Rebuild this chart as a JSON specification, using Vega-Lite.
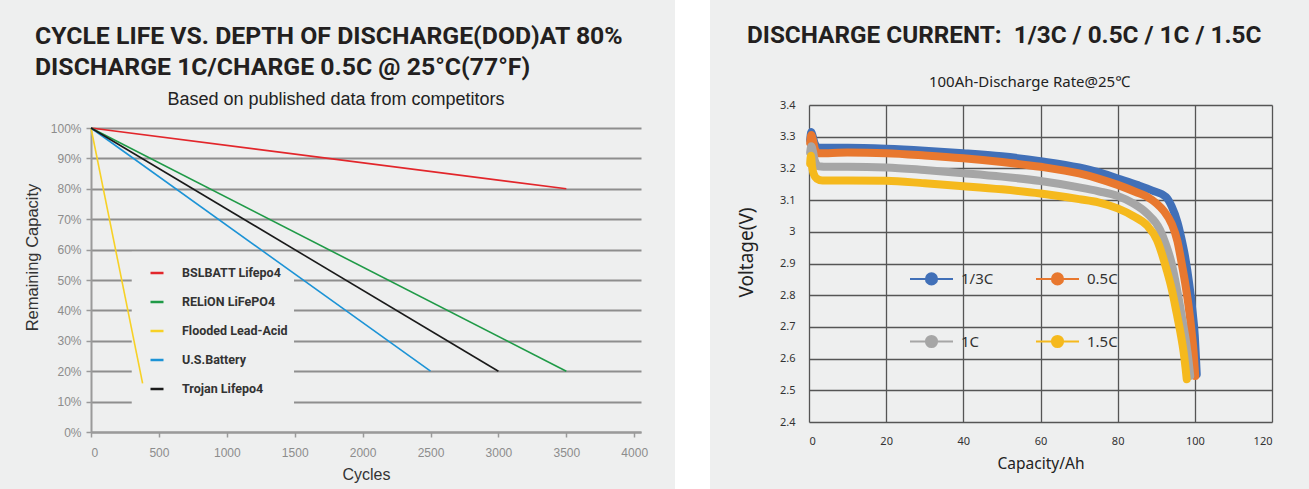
{
  "$schema": "https://vega.github.io/schema/vega-lite/v6.json",
  "background": "#eeefef",
  "padding": {"left": 24, "top": 0, "right": 40, "bottom": 0},
  "spacing": 27,
  "resolve": {"scale": {"color": "independent"}, "legend": {"color": "independent"}},
  "config": {
    "view": {"stroke": null},
    "font": "Liberation Sans"
  },
  "hconcat": [
    {
      "title": {
        "text": ["CYCLE LIFE VS. DEPTH OF DISCHARGE(DOD)AT 80%", "\u00a0DISCHARGE 1C/CHARGE 0.5C @ 25°C(77°F)"],
        "anchor": "start", "frame": "bounds", "dx": 11,
        "font": "Roboto", "fontWeight": "bold", "fontSize": 24.8, "lineHeight": 31,
        "color": "#231f20", "baseline": "bottom", "offset": -14
      },
      "vconcat": [
        {
          "width": 550,
          "height": 327,
          "title": {
            "text": "Based on published data from competitors",
            "anchor": "middle", "frame": "group", "dx": -30,
            "font": "Liberation Sans", "fontSize": 18, "fontWeight": "normal",
            "color": "#222222", "baseline": "alphabetic", "offset": -18
          },
          "layer": [
            {
              "data": {"values": [{}]},
              "mark": {"type": "rect", "fill": "#eeefef", "stroke": null},
              "encoding": {
                "x": {
                  "datum": 300, "type": "quantitative",
                  "scale": {"domain": [0, 4050], "nice": false},
                  "axis": {
                    "values": [0, 500, 1000, 1500, 2000, 2500, 3000, 3500, 4000],
                    "format": "d", "title": "Cycles", "grid": false,
                    "domain": true, "domainColor": "#9a9a9a", "domainWidth": 2,
                    "ticks": true, "tickColor": "#9a9a9a", "tickSize": 5, "tickWidth": 1.5,
                    "labelFont": "Liberation Sans", "labelFontSize": 12, "labelColor": "#8c8c8c", "labelPadding": 10,
                    "titleFont": "Liberation Sans", "titleFontSize": 16, "titleFontWeight": "normal", "titleColor": "#333333",
                    "titleY": 42, "titleBaseline": "middle"
                  }
                },
                "x2": {"datum": 1495},
                "y": {
                  "datum": 6.5, "type": "quantitative",
                  "scale": {"domain": [0, 100], "range": [327, 23], "nice": false, "zero": false},
                  "axis": {
                    "values": [0, 10, 20, 30, 40, 50, 60, 70, 80, 90, 100],
                    "labelExpr": "datum.value + '%'", "title": "Remaining Capacity",
                    "grid": true, "gridColor": "#8e8e8e", "gridWidth": 2,
                    "domain": true, "domainColor": "#9a9a9a", "domainWidth": 2,
                    "ticks": true, "tickColor": "#9a9a9a", "tickSize": 5, "tickWidth": 1.5,
                    "labelFont": "Liberation Sans", "labelFontSize": 12, "labelColor": "#8c8c8c", "labelPadding": 5,
                    "titleFont": "Liberation Sans", "titleFontSize": 16.5, "titleFontWeight": "normal", "titleColor": "#333333",
                    "titleX": -59, "titleY": 152, "titleBaseline": "middle"
                  }
                },
                "y2": {"datum": 59.3}
              }
            },
            {
              "data": {
                "values": [
                  {"s": "BSLBATT Lifepo4", "c": 0, "p": 100},
                  {"s": "BSLBATT Lifepo4", "c": 3500, "p": 80},
                  {"s": "RELiON LiFePO4", "c": 0, "p": 100},
                  {"s": "RELiON LiFePO4", "c": 3500, "p": 20},
                  {"s": "Flooded Lead-Acid", "c": 0, "p": 100},
                  {"s": "Flooded Lead-Acid", "c": 380, "p": 16},
                  {"s": "U.S.Battery", "c": 0, "p": 100},
                  {"s": "U.S.Battery", "c": 2500, "p": 20},
                  {"s": "Trojan Lifepo4", "c": 0, "p": 100},
                  {"s": "Trojan Lifepo4", "c": 3000, "p": 20}
                ]
              },
              "mark": {"type": "line", "strokeWidth": 1.6},
              "encoding": {
                "x": {
                  "field": "c", "type": "quantitative",
                  "scale": {"domain": [0, 4050], "nice": false},
                  "axis": {
                    "values": [0, 500, 1000, 1500, 2000, 2500, 3000, 3500, 4000],
                    "format": "d", "title": "Cycles", "grid": false,
                    "domain": true, "domainColor": "#9a9a9a", "domainWidth": 2,
                    "ticks": true, "tickColor": "#9a9a9a", "tickSize": 5, "tickWidth": 1.5,
                    "labelFont": "Liberation Sans", "labelFontSize": 12, "labelColor": "#8c8c8c", "labelPadding": 10,
                    "titleFont": "Liberation Sans", "titleFontSize": 16, "titleFontWeight": "normal", "titleColor": "#333333",
                    "titleY": 42, "titleBaseline": "middle"
                  }
                },
                "y": {
                  "field": "p", "type": "quantitative",
                  "scale": {"domain": [0, 100], "range": [327, 23], "nice": false, "zero": false},
                  "axis": {
                    "values": [0, 10, 20, 30, 40, 50, 60, 70, 80, 90, 100],
                    "labelExpr": "datum.value + '%'", "title": "Remaining Capacity",
                    "grid": true, "gridColor": "#8e8e8e", "gridWidth": 2,
                    "domain": true, "domainColor": "#9a9a9a", "domainWidth": 2,
                    "ticks": true, "tickColor": "#9a9a9a", "tickSize": 5, "tickWidth": 1.5,
                    "labelFont": "Liberation Sans", "labelFontSize": 12, "labelColor": "#8c8c8c", "labelPadding": 5,
                    "titleFont": "Liberation Sans", "titleFontSize": 16.5, "titleFontWeight": "normal", "titleColor": "#333333",
                    "titleX": -59, "titleY": 152, "titleBaseline": "middle"
                  }
                },
                "color": {
                  "field": "s", "type": "nominal",
                  "scale": {
                    "domain": ["BSLBATT Lifepo4", "RELiON LiFePO4", "Flooded Lead-Acid", "U.S.Battery", "Trojan Lifepo4"],
                    "range": ["#e2262b", "#1f9a47", "#f7d126", "#1c93d6", "#1a1a1a"]
                  },
                  "legend": {
                    "orient": "none", "legendX": 58, "legendY": 160, "title": null,
                    "padding": 0,
                    "symbolType": "stroke", "symbolSize": 169, "symbolStrokeWidth": 2.5,
                    "labelFont": "Roboto", "labelFontWeight": "bold", "labelFontSize": 12.5, "labelColor": "#333333",
                    "labelOffset": 17, "rowPadding": 14, "labelLimit": 300
                  }
                }
              }
            }
          ]
        }
      ]
    },
    {
      "width": 35,
      "height": 384,
      "data": {"values": [{}]},
      "mark": {"type": "rect", "fill": "#ffffff", "stroke": null},
      "encoding": {
        "x": {"datum": 0, "type": "quantitative", "scale": {"domain": [0, 1], "range": [0, 35]}, "axis": null},
        "x2": {"datum": 1},
        "y": {"datum": 0, "type": "quantitative", "scale": {"domain": [0, 1], "range": [384, -105]}, "axis": null},
        "y2": {"datum": 1}
      }
    },
    {
      "title": {
        "text": "DISCHARGE CURRENT:\u00a0\u00a01/3C / 0.5C / 1C / 1.5C",
        "anchor": "start", "frame": "bounds", "dx": 10,
        "font": "Roboto", "fontWeight": "bold", "fontSize": 24.3,
        "color": "#231f20", "baseline": "bottom", "offset": 3
      },
      "vconcat": [
        {
          "width": 463,
          "height": 317,
          "title": {
            "text": "100Ah-Discharge Rate@25℃",
            "anchor": "middle", "frame": "group", "dx": -11,
            "font": "Noto Sans", "fontSize": 15, "fontWeight": "normal",
            "color": "#222222", "baseline": "alphabetic", "offset": -3
          },
          "data": {
            "values": [
              {"r": "1/3C", "c": 0.3, "v": 3.29},
              {"r": "1/3C", "c": 0.6, "v": 3.315},
              {"r": "1/3C", "c": 1.0, "v": 3.3},
              {"r": "1/3C", "c": 1.5, "v": 3.278},
              {"r": "1/3C", "c": 2.5, "v": 3.265},
              {"r": "1/3C", "c": 5, "v": 3.265},
              {"r": "1/3C", "c": 10, "v": 3.265},
              {"r": "1/3C", "c": 20, "v": 3.262},
              {"r": "1/3C", "c": 30, "v": 3.256},
              {"r": "1/3C", "c": 40, "v": 3.248},
              {"r": "1/3C", "c": 50, "v": 3.238},
              {"r": "1/3C", "c": 60, "v": 3.223},
              {"r": "1/3C", "c": 70, "v": 3.203},
              {"r": "1/3C", "c": 75, "v": 3.188},
              {"r": "1/3C", "c": 80, "v": 3.168},
              {"r": "1/3C", "c": 85, "v": 3.148},
              {"r": "1/3C", "c": 89, "v": 3.13},
              {"r": "1/3C", "c": 92.5, "v": 3.11},
              {"r": "1/3C", "c": 94, "v": 3.08},
              {"r": "1/3C", "c": 95.5, "v": 3.03},
              {"r": "1/3C", "c": 96.5, "v": 2.98},
              {"r": "1/3C", "c": 97.5, "v": 2.92},
              {"r": "1/3C", "c": 98.5, "v": 2.84},
              {"r": "1/3C", "c": 99.3, "v": 2.76},
              {"r": "1/3C", "c": 100, "v": 2.67},
              {"r": "1/3C", "c": 100.3, "v": 2.6},
              {"r": "1/3C", "c": 100.5, "v": 2.55},
              {"r": "0.5C", "c": 0.3, "v": 3.28},
              {"r": "0.5C", "c": 0.6, "v": 3.305},
              {"r": "0.5C", "c": 1.0, "v": 3.29},
              {"r": "0.5C", "c": 1.5, "v": 3.262},
              {"r": "0.5C", "c": 2.5, "v": 3.248},
              {"r": "0.5C", "c": 5, "v": 3.248},
              {"r": "0.5C", "c": 10, "v": 3.25},
              {"r": "0.5C", "c": 20, "v": 3.248},
              {"r": "0.5C", "c": 30, "v": 3.241},
              {"r": "0.5C", "c": 40, "v": 3.232},
              {"r": "0.5C", "c": 50, "v": 3.22},
              {"r": "0.5C", "c": 60, "v": 3.205},
              {"r": "0.5C", "c": 70, "v": 3.184},
              {"r": "0.5C", "c": 75, "v": 3.168},
              {"r": "0.5C", "c": 80, "v": 3.148},
              {"r": "0.5C", "c": 85, "v": 3.124},
              {"r": "0.5C", "c": 88, "v": 3.108},
              {"r": "0.5C", "c": 90, "v": 3.09},
              {"r": "0.5C", "c": 92, "v": 3.065},
              {"r": "0.5C", "c": 94, "v": 3.025},
              {"r": "0.5C", "c": 95.5, "v": 2.97},
              {"r": "0.5C", "c": 96.6, "v": 2.9},
              {"r": "0.5C", "c": 97.6, "v": 2.83},
              {"r": "0.5C", "c": 98.4, "v": 2.764},
              {"r": "0.5C", "c": 99.2, "v": 2.68},
              {"r": "0.5C", "c": 99.7, "v": 2.618},
              {"r": "0.5C", "c": 100.1, "v": 2.545},
              {"r": "1C", "c": 0.3, "v": 3.25},
              {"r": "1C", "c": 0.6, "v": 3.27},
              {"r": "1C", "c": 1.0, "v": 3.255},
              {"r": "1C", "c": 1.5, "v": 3.225},
              {"r": "1C", "c": 2.5, "v": 3.207},
              {"r": "1C", "c": 5, "v": 3.205},
              {"r": "1C", "c": 10, "v": 3.205},
              {"r": "1C", "c": 20, "v": 3.203},
              {"r": "1C", "c": 30, "v": 3.195},
              {"r": "1C", "c": 40, "v": 3.185},
              {"r": "1C", "c": 50, "v": 3.174},
              {"r": "1C", "c": 60, "v": 3.16},
              {"r": "1C", "c": 70, "v": 3.14},
              {"r": "1C", "c": 75, "v": 3.128},
              {"r": "1C", "c": 80, "v": 3.113},
              {"r": "1C", "c": 84, "v": 3.09},
              {"r": "1C", "c": 87.6, "v": 3.058},
              {"r": "1C", "c": 91, "v": 3.006},
              {"r": "1C", "c": 92.5, "v": 2.96},
              {"r": "1C", "c": 94, "v": 2.9},
              {"r": "1C", "c": 95.2, "v": 2.83},
              {"r": "1C", "c": 96.2, "v": 2.764},
              {"r": "1C", "c": 97.1, "v": 2.7},
              {"r": "1C", "c": 97.9, "v": 2.638},
              {"r": "1C", "c": 98.4, "v": 2.59},
              {"r": "1C", "c": 98.8, "v": 2.545},
              {"r": "1.5C", "c": 0.3, "v": 3.215},
              {"r": "1.5C", "c": 0.5, "v": 3.24},
              {"r": "1.5C", "c": 0.8, "v": 3.205},
              {"r": "1.5C", "c": 1.2, "v": 3.183},
              {"r": "1.5C", "c": 2, "v": 3.168},
              {"r": "1.5C", "c": 3.5, "v": 3.162},
              {"r": "1.5C", "c": 10, "v": 3.162},
              {"r": "1.5C", "c": 20, "v": 3.161},
              {"r": "1.5C", "c": 30, "v": 3.153},
              {"r": "1.5C", "c": 40, "v": 3.144},
              {"r": "1.5C", "c": 50, "v": 3.134},
              {"r": "1.5C", "c": 60, "v": 3.121},
              {"r": "1.5C", "c": 70, "v": 3.103},
              {"r": "1.5C", "c": 75, "v": 3.093},
              {"r": "1.5C", "c": 80, "v": 3.074},
              {"r": "1.5C", "c": 84, "v": 3.05},
              {"r": "1.5C", "c": 87.6, "v": 3.02},
              {"r": "1.5C", "c": 90.2, "v": 2.974},
              {"r": "1.5C", "c": 92.7, "v": 2.88},
              {"r": "1.5C", "c": 94, "v": 2.82},
              {"r": "1.5C", "c": 95.3, "v": 2.743},
              {"r": "1.5C", "c": 96.3, "v": 2.68},
              {"r": "1.5C", "c": 97.1, "v": 2.62},
              {"r": "1.5C", "c": 97.6, "v": 2.57},
              {"r": "1.5C", "c": 97.9, "v": 2.535}
            ]
          },
          "mark": {"type": "line", "strokeWidth": 8, "strokeCap": "round", "strokeJoin": "round", "interpolate": "monotone"},
          "encoding": {
            "x": {
              "field": "c", "type": "quantitative",
              "scale": {"domain": [0, 120], "nice": false},
              "axis": {
                "values": [0, 20, 40, 60, 80, 100, 120], "title": "Capacity/Ah",
                "grid": true, "gridColor": "#555555", "gridWidth": 1.3,
                "domain": false, "ticks": false,
                "labelFont": "Noto Sans", "labelFontSize": 11, "labelColor": "#333333", "labelPadding": 13,
                "titleFont": "Noto Sans", "titleFontSize": 15.5, "titleFontWeight": "normal", "titleColor": "#222222",
                "titleY": 41, "titleBaseline": "middle"
              }
            },
            "y": {
              "field": "v", "type": "quantitative",
              "scale": {"domain": [2.4, 3.4], "nice": false, "zero": false},
              "axis": {
                "values": [2.4, 2.5, 2.6, 2.7, 2.8, 2.9, 3.0, 3.1, 3.2, 3.3, 3.4], "format": ".1~f",
                "title": "Voltage(V)",
                "grid": true, "gridColor": "#555555", "gridWidth": 1.3,
                "domain": false, "ticks": false,
                "labelFont": "Noto Sans", "labelFontSize": 11, "labelColor": "#333333", "labelPadding": 14,
                "titleFont": "Noto Sans", "titleFontSize": 19, "titleFontWeight": "normal", "titleColor": "#222222",
                "titleX": -63, "titleY": 147, "titleBaseline": "middle"
              }
            },
            "color": {
              "field": "r", "type": "nominal",
              "scale": {"domain": ["1/3C", "0.5C", "1C", "1.5C"], "range": ["#4170b8", "#e8782f", "#a6a6a6", "#f5b91d"]},
              "legend": {
                "orient": "none", "legendX": 100, "legendY": 151, "title": null,
                "columns": 2, "direction": "horizontal", "padding": 0,
                "symbolType": "M-1,0H-0.26A0.26,0.26 0 1 1 0.26,0A0.26,0.26 0 1 1 -0.26,0M0.26,0H1",
                "symbolSize": 1849, "symbolStrokeWidth": 2,
                "labelFont": "Noto Sans", "labelFontSize": 15, "labelColor": "#333333",
                "labelOffset": 7, "rowPadding": 30, "columnPadding": 38,
                "encode": {"symbols": {"update": {"fill": {"signal": "({'1/3C': '#4170b8', '0.5C': '#e8782f', '1C': '#a6a6a6', '1.5C': '#f5b91d'})[datum.value]"}, "fillOpacity": {"value": 1}}}}
              }
            }
          }
        }
      ]
    }
  ]
}
